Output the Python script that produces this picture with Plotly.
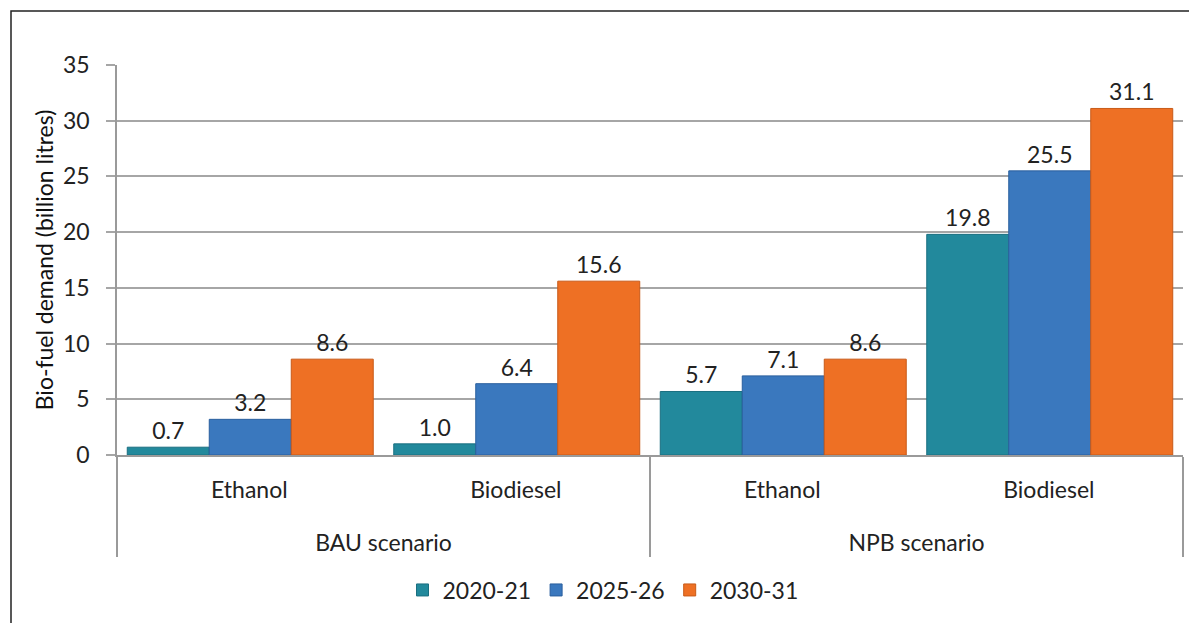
import plotly.graph_objects as go

scenarios = ["BAU scenario", "BAU scenario", "NPB scenario", "NPB scenario"]
fuels = ["Ethanol", "Biodiesel", "Ethanol", "Biodiesel"]
series_names = ["2020-21", "2025-26", "2030-31"]
v_2020 = [0.7, 1.0, 5.7, 19.8]
v_2025 = [3.2, 6.4, 7.1, 25.5]
v_2030 = [8.6, 15.6, 8.6, 31.1]
values = [v_2020, v_2025, v_2030]
colors = ["#22899c", "#3a78be", "#ee7024"]
edge_colors = ["#1a6f80", "#2a5f9e", "#c85a18"]
y_ticks = [0, 5, 10, 15, 20, 25, 30, 35]

FONT = "Lato, Open Sans, sans-serif"
FS = 23
TXT = "#222222"

# label spacing helpers for the two-level category axis
outer_labels = ["<br>" + s for s in scenarios]
inner_labels = [f + "<span style='font-size:29px'>\u200a</span>" for f in fuels]

fig = go.Figure()
for name, vals, c, ec in zip(series_names, values, colors, edge_colors):
    fig.add_trace(go.Bar(
        x=[outer_labels, inner_labels], y=vals, name=name,
        marker=dict(color=c, line=dict(color=ec, width=1)),
        text=[f"{v:.1f}" for v in vals], textposition="outside",
        textfont=dict(family=FONT, size=FS, color=TXT),
        cliponaxis=False,
    ))

OFF = 8  # browser body margin
W, H = 1197 - OFF, 623 - OFF
L, R, T, B = 117 - OFF, 1197 - 1183, 65 - OFF, 623 - 455
pw, ph = W - L - R, H - T - B

def px(xs):
    return (xs - OFF - L) / pw

def py(ys):
    return (T + ph - (ys - OFF)) / ph

fig.update_layout(
    width=W, height=H,
    margin=dict(l=L, r=R, t=T, b=B, autoexpand=False),
    paper_bgcolor="white", plot_bgcolor="white",
    barmode="group", bargap=0.077, bargroupgap=0,
    font=dict(family=FONT, size=FS, color=TXT),
    showlegend=True,
    legend=dict(orientation="h", x=px(603), xanchor="center",
                y=py(590), yanchor="middle",
                font=dict(family=FONT, size=FS, color=TXT),
                itemwidth=30, traceorder="normal"),
    xaxis=dict(type="multicategory", automargin=False,
               showline=True, linecolor="#9a9a9a", linewidth=1.5,
               showdividers=True, dividercolor="#9a9a9a", dividerwidth=1.5,
               tickfont=dict(family=FONT, size=FS, color=TXT), ticks="",
               ticklabelstandoff=14,
               showgrid=False),
    yaxis=dict(range=[0, 35], tickvals=y_ticks, automargin=False,
               showgrid=True, gridcolor="#a6a6a6", gridwidth=1.5,
               showline=True, linecolor="#9a9a9a", linewidth=1.5,
               ticks="outside", ticklen=9, tickcolor="#a6a6a6", tickwidth=1.5,
               ticklabelstandoff=12,
               tickfont=dict(family=FONT, size=FS, color=TXT),
               title=dict(text="Bio-fuel demand (billion litres)", standoff=3,
                          font=dict(family=FONT, size=FS, color="#111111")),
               zeroline=False),
    shapes=[dict(type="rect", xref="paper", yref="paper",
                 x0=px(11), x1=px(1230),
                 y0=py(650), y1=py(11),
                 line=dict(color="#222222", width=1.5), fillcolor="rgba(0,0,0,0)", layer="below")],
)

fig.write_html("out.html")
